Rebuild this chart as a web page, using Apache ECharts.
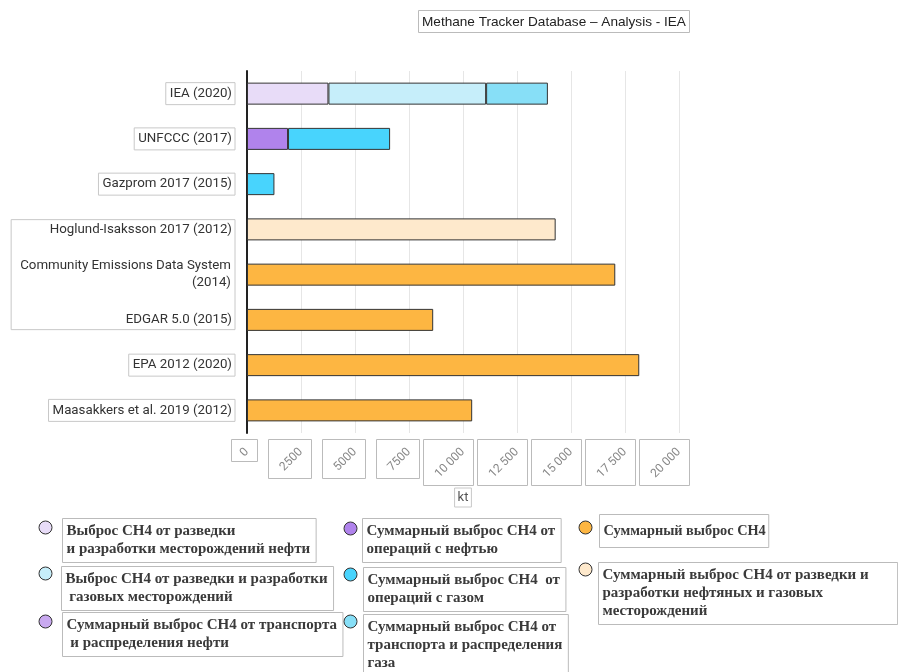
<!DOCTYPE html>
<html><head><meta charset="utf-8">
<script src="https://cdn.jsdelivr.net/npm/echarts@6/dist/echarts.min.js"></script>
<style>html,body{margin:0;padding:0;background:#fff}#c{width:898px;height:672px}</style>
</head><body><div id="c"></div>
<script>
// ---------- data ----------
const categories = [
  'IEA (2020)',
  'UNFCCC (2017)',
  'Gazprom 2017 (2015)',
  'Hoglund-Isaksson 2017 (2012)',
  'Community Emissions Data System\n(2014)',
  'EDGAR 5.0 (2015)',
  'EPA 2012 (2020)',
  'Maasakkers et al. 2019 (2012)'
];
const oilExploration   = [3770, null, null, null, null, null, null, null];
const oilOperations    = [null, 1900, null, null, null, null, null, null];
const oilTransport     = [null, null, null, null, null, null, null, null];
const gasExploration   = [7300, null, null, null, null, null, null, null];
const gasOperations    = [null, 4725, 1270, null, null, null, null, null];
const gasTransport     = [2860, null, null, null, null, null, null, null];
const totalCH4         = [null, null, null, null, 17050, 8620, 18160, 10425];
const totalExploration = [null, null, null, 14290, null, null, null, null];
const xTickValues = [0, 2500, 5000, 7500, 10000, 12500, 15000, 17500, 20000];
const xTickLabels = ['0', '2500', '5000', '7500', '10 000', '12 500', '15 000', '17 500', '20 000'];
const seriesNames = [
  'Выброс CH4 от разведки\nи разработки месторождений нефти',
  'Суммарный выброс CH4 от\nопераций с нефтью',
  'Суммарный выброс CH4 от транспорта\n и распределения нефти',
  'Выброс CH4 от разведки и разработки\n газовых месторождений',
  'Суммарный выброс CH4  от\nопераций с газом',
  'Суммарный выброс CH4 от\nтранспорта и распределения\nгаза',
  'Суммарный выброс CH4',
  'Суммарный выброс CH4 от разведки и\nразработки нефтяных и газовых\nместорождений'
];
const seriesData = [oilExploration, oilOperations, oilTransport, gasExploration, gasOperations, gasTransport, totalCH4, totalExploration];
const seriesColors = ['#e8dcf8', '#b083ec', '#c9a9f0', '#c6eefa', '#48d4fd', '#87dff7', '#fdb642', '#fee9cc'];

// ---------- layout ----------
const W = 898, H = 672;
const gridLeft = 247, gridRight = 219, gridTop = 71, gridBottom = 239;
// legend layout: series index, left, top, icon width, item height, icon centre y, text padding, font size
const legendLayout = [
  [0, 38, 518, 19, 44, 9, [4, 6, 4, 4], 15],
  [3, 38, 566, 18, 44, 7, [4, 6, 4, 4], 15],
  [2, 38, 612, 19, 44, 9, [4, 6, 4, 4], 15],
  [1, 343, 518, 14, 44, 10, [4, 6, 4, 4], 15],
  [4, 343, 567, 15, 44, 7, [4, 6, 4, 4], 15],
  [5, 343, 614, 15, 62, 7, [4, 6, 4, 4], 15],
  [6, 578, 514, 16, 33, 13, [7, 3, 8, 4], 14.3],
  [7, 578, 562, 15, 62, 7, [4, 29, 4, 4], 15]
];

function iconPath(w, h, cy) {
  const r = 6.5, cx = 7;
  return 'path://M0,0L0,0M' + w + ',' + h + 'L' + w + ',' + h +
    'M' + (cx - r) + ',' + cy + 'A' + r + ',' + r + ' 0 1 1 ' + (cx + r) + ',' + cy +
    'A' + r + ',' + r + ' 0 1 1 ' + (cx - r) + ',' + cy + 'Z';
}

const labelBase = {
  fontFamily: 'Roboto', fontSize: 13.3, color: '#333', lineHeight: 17,
  borderColor: '#c8c8c8', borderWidth: 1, padding: [3, 3, 2, 4]
};
const yData = categories.map((c, i) => {
  let ts = Object.assign({}, labelBase);
  if (i === 3 || i === 5) ts = Object.assign(ts, { borderWidth: 0 });
  if (i === 4) ts = Object.assign(ts, { padding: [38, 4, 38, 9] });
  return { value: c, textStyle: ts };
});

const legends = legendLayout.map(l => ({
  orient: 'vertical',
  left: l[1], top: l[2], padding: 0,
  itemWidth: l[3], itemHeight: l[4],
  data: [{ name: seriesNames[l[0]], icon: iconPath(l[3], l[4], l[5]) }],
  itemStyle: { borderColor: '#333', borderWidth: 1 },
  textStyle: {
    fontFamily: 'Liberation Serif', fontWeight: 'bold', fontSize: l[7], color: '#3a3a3a',
    lineHeight: 18, borderColor: '#bbb', borderWidth: 1, padding: l[6]
  }
}));

const series = seriesNames.map((n, i) => ({
  name: n, type: 'bar', stack: 'total', barWidth: 22,
  data: seriesData[i],
  itemStyle: { color: seriesColors[i], borderColor: '#333', borderWidth: 1 },
  emphasis: { disabled: true }
}));

const chart = echarts.init(document.getElementById('c'), null, { renderer: 'canvas' });
chart.setOption({
  animation: false,
  backgroundColor: '#fff',
  title: {
    text: 'Methane Tracker Database – Analysis - IEA',
    left: 418, top: 10, padding: [5, 4, 4, 4],
    borderColor: '#bbb', borderWidth: 1,
    textStyle: { fontFamily: 'Liberation Sans', fontSize: 13.6, fontWeight: 'normal', color: '#222' }
  },
  legend: legends,
  grid: { left: gridLeft, right: gridRight, top: gridTop, bottom: gridBottom, containLabel: false, outerBoundsMode: 'none' },
  xAxis: {
    type: 'value', min: 0, max: 20000, interval: 2500,
    name: 'kt', nameLocation: 'middle', nameGap: 55,
    nameTextStyle: { fontFamily: 'Roboto', fontSize: 13, color: '#555', borderColor: '#c8c8c8', borderWidth: 1, padding: [3, 3, 3, 3] },
    axisLine: { show: false }, axisTick: { show: false },
    splitLine: { show: true, lineStyle: { color: '#e6e6e6', width: 1 } },
    axisLabel: {
      rotate: 45, margin: 17, fontFamily: 'Roboto', fontSize: 12, color: '#888',
      formatter: v => { const k = xTickValues.indexOf(v); return k >= 0 ? xTickLabels[k] : ''; }
    }
  },
  yAxis: {
    type: 'category', inverse: true, data: yData,
    axisLine: { show: true, lineStyle: { color: '#222', width: 2 } },
    axisTick: { show: false },
    splitLine: { show: false },
    axisLabel: Object.assign({ margin: 12, interval: 0 }, labelBase)
  },
  series: series
});

// boxes around rotated x-axis labels
const axisY = H - gridBottom;
const boxes = xTickValues.map((v, i) => {
  const px = chart.convertToPixel({ xAxisIndex: 0 }, v);
  const n = xTickLabels[i].replace(/ /g, '').length;
  const w = n === 1 ? 26 : 7 * n + 15;
  const h = n === 1 ? 22 : w - 4;
  const left = n === 1 ? px - 16 : px + 10 - w;
  return {
    type: 'rect', silent: true,
    shape: { x: Math.round(left) + 0.5, y: axisY + 6.5, width: w, height: h },
    style: { fill: 'none', stroke: '#bbb', lineWidth: 1 }
  };
});
chart.setOption({ graphic: boxes });
</script>
</body></html>
